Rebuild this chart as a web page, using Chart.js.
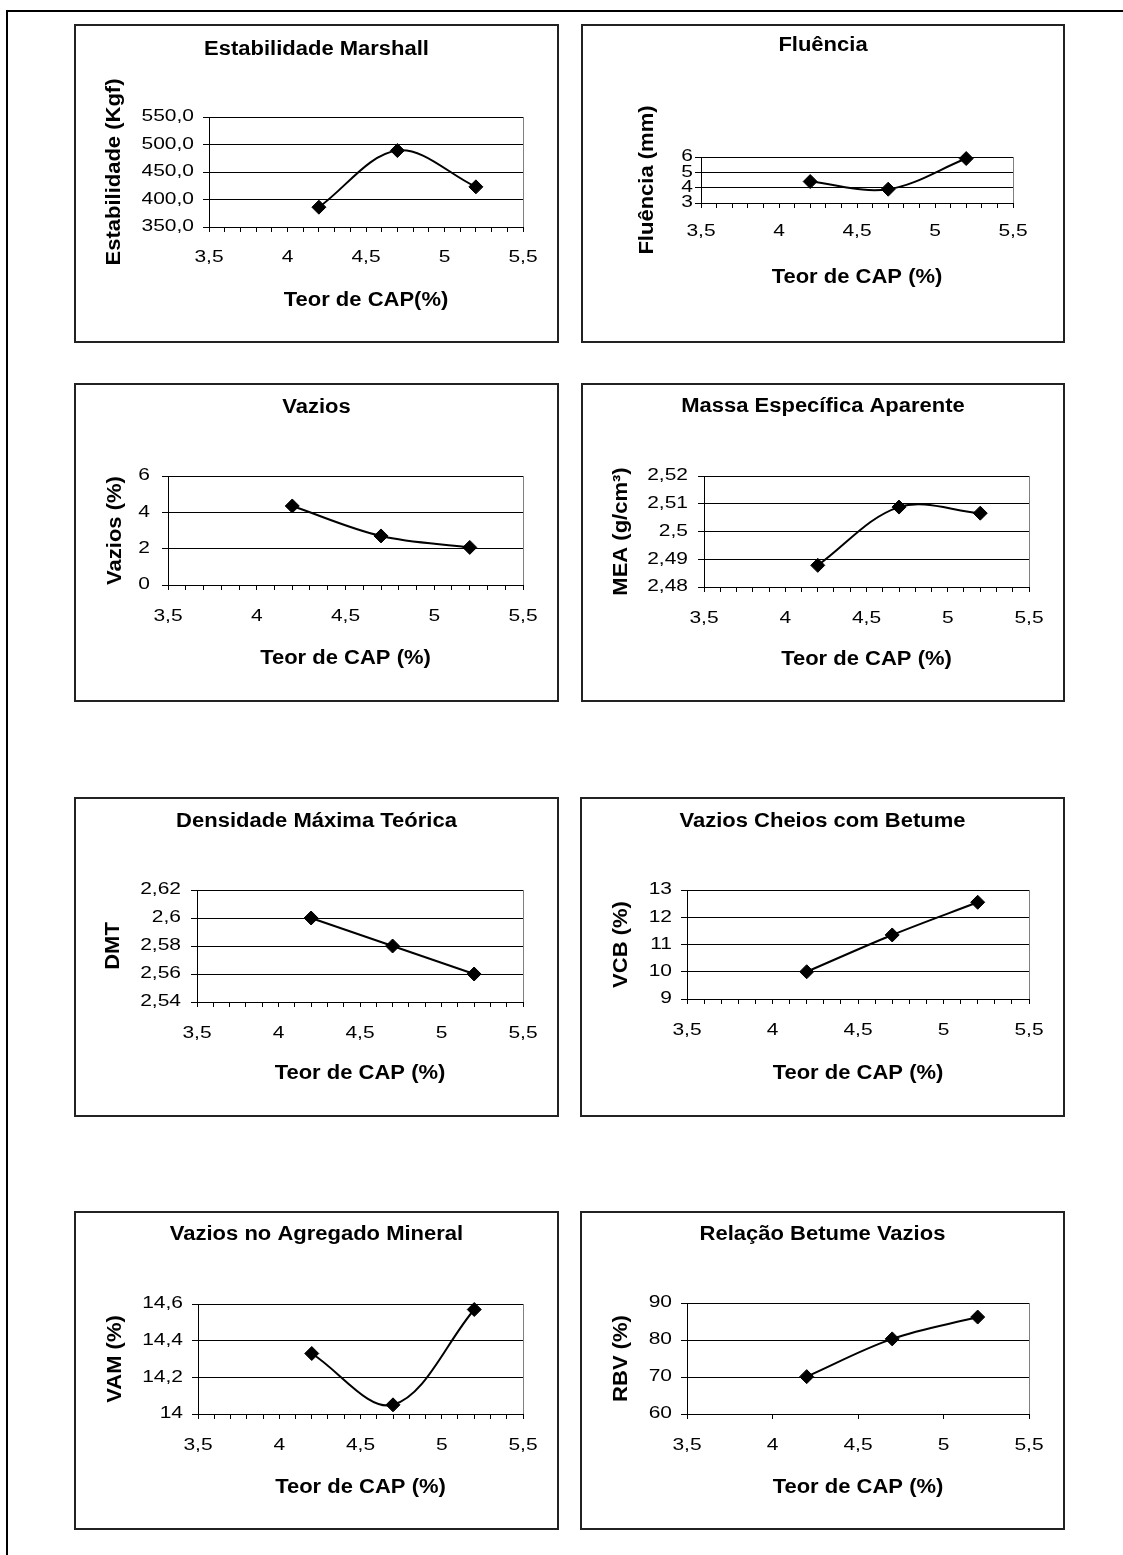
<!DOCTYPE html>
<html>
<head>
<meta charset="utf-8">
<script src="https://cdn.jsdelivr.net/npm/chart.js@4.4.1/dist/chart.umd.min.js"></script>
<style>
  html, body { margin: 0; padding: 0; background: #fff; }
  body { width: 1123px; height: 1555px; position: relative; overflow: hidden; }
  #frame { position: absolute; left: 6px; top: 10px; width: 1200px; height: 1544px;
           border-top: 2px solid #000; border-left: 2px solid #000; }
  canvas { position: absolute; }
</style>
</head>
<body>
<div id="frame"></div>
<canvas id="cEstab" width="485" height="319" style="left:74px;top:24px"></canvas>
<canvas id="cFlu"   width="484" height="319" style="left:581px;top:24px"></canvas>
<canvas id="cVaz"   width="485" height="319" style="left:74px;top:383px"></canvas>
<canvas id="cMEA"   width="484" height="319" style="left:581px;top:383px"></canvas>
<canvas id="cDMT"   width="485" height="320" style="left:74px;top:797px"></canvas>
<canvas id="cVCB"   width="485" height="320" style="left:580px;top:797px"></canvas>
<canvas id="cVAM"   width="485" height="319" style="left:74px;top:1211px"></canvas>
<canvas id="cRBV"   width="485" height="319" style="left:580px;top:1211px"></canvas>

<script>
// Teor de CAP (%) of the three mixes
const teorCAP = [4.2, 4.7, 5.2];

// Measured properties per mix
const estabilidade = [386, 489, 423];          // Kgf
const fluencia     = [4.4, 3.9, 5.9];          // mm
const vazios       = [4.35, 2.7, 2.07];        // %
const mea          = [2.4878, 2.5088, 2.5066]; // g/cm3
const dmt          = [2.60, 2.58, 2.56];
const vcb          = [10.0, 11.35, 12.55];     // %
const vam          = [14.33, 14.05, 14.57];    // %
const rbv          = [70.1, 80.3, 86.2];       // %

// X axis ticks
const xMinorTicks  = [3.5, 3.6, 3.7, 3.8, 3.9, 4.0, 4.1, 4.2, 4.3, 4.4, 4.5,
                      4.6, 4.7, 4.8, 4.9, 5.0, 5.1, 5.2, 5.3, 5.4, 5.5];
const xMajorTicks  = [3.5, 4, 4.5, 5, 5.5];
const xTickLabels  = ['3,5', '4', '4,5', '5', '5,5'];

// Y axis ticks and their labels
const yTicksEstab  = [350, 400, 450, 500, 550];
const yLabelsEstab = ['350,0', '400,0', '450,0', '500,0', '550,0'];
const yTicksFlu    = [3, 4, 5, 6];
const yLabelsFlu   = ['3', '4', '5', '6'];
const yTicksVaz    = [0, 2, 4, 6];
const yLabelsVaz   = ['0', '2', '4', '6'];
const yTicksMEA    = [2.48, 2.49, 2.50, 2.51, 2.52];
const yLabelsMEA   = ['2,48', '2,49', '2,5', '2,51', '2,52'];
const yTicksDMT    = [2.54, 2.56, 2.58, 2.60, 2.62];
const yLabelsDMT   = ['2,54', '2,56', '2,58', '2,6', '2,62'];
const yTicksVCB    = [9, 10, 11, 12, 13];
const yLabelsVCB   = ['9', '10', '11', '12', '13'];
const yTicksVAM    = [14, 14.2, 14.4, 14.6];
const yLabelsVAM   = ['14', '14,2', '14,4', '14,6'];
const yTicksRBV    = [60, 70, 80, 90];
const yLabelsRBV   = ['60', '70', '80', '90'];

const FAMILY = "'Liberation Sans', Arial, sans-serif";
const fontTitle = { family: FAMILY, size: 20, weight: 'bold' };
const fontTick  = { family: FAMILY, size: 16 };
const HALF_TITLE = 20 * 1.2 / 2;
const HALF_TICK  = 16 * 1.2 / 2;
const TICK_X = 5, TICK_Y = 6;

// The printed charts use wide lettering: widen glyphs horizontally
// (bold text a little, regular tick text more) around each anchor point.
function widenText(ctx) {
  const fill = ctx.fillText.bind(ctx);
  const measure = ctx.measureText.bind(ctx);
  const factor = () => (/bold/.test(ctx.font) ? 1.10 : 1.31);
  ctx.fillText = function (text, x, y, maxWidth) {
    const k = factor();
    ctx.save();
    ctx.translate(x, y);
    ctx.scale(k, 1);
    if (maxWidth === undefined || maxWidth === null) fill(text, 0, 0);
    else fill(text, 0, 0, maxWidth / k);
    ctx.restore();
  };
  ctx.measureText = function (text) {
    const m = measure(text);
    const k = factor();
    return {
      width: m.width * k,
      actualBoundingBoxLeft: m.actualBoundingBoxLeft * k,
      actualBoundingBoxRight: m.actualBoundingBoxRight * k,
      actualBoundingBoxAscent: m.actualBoundingBoxAscent,
      actualBoundingBoxDescent: m.actualBoundingBoxDescent,
      fontBoundingBoxAscent: m.fontBoundingBoxAscent,
      fontBoundingBoxDescent: m.fontBoundingBoxDescent
    };
  };
  return ctx;
}

// Grey plot-area frame and the outer box of every chart
const framePlugin = {
  id: 'frame',
  beforeDraw(chart) {
    const { ctx, chartArea: a } = chart;
    ctx.save();
    ctx.strokeStyle = '#808080';
    ctx.lineWidth = 1;
    ctx.strokeRect(Math.round(a.left) + 0.5, Math.round(a.top) + 0.5,
                   Math.round(a.right - a.left), Math.round(a.bottom - a.top));
    ctx.restore();
  },
  afterDraw(chart) {
    const ctx = chart.ctx;
    ctx.save();
    ctx.strokeStyle = '#222';
    ctx.lineWidth = 2;
    ctx.strokeRect(1, 1, chart.width - 2, chart.height - 2);
    ctx.restore();
  }
};

function xLabel(v) {
  const i = xMajorTicks.findIndex(m => Math.abs(m - v) < 1e-6);
  return i < 0 ? '' : xTickLabels[i];
}

function drawChart(id, spec, L) {
  const canvas = document.getElementById(id);
  const W = canvas.width, H = canvas.height;
  const ctx = widenText(canvas.getContext('2d'));
  return new Chart(ctx, {
    type: 'line',
    data: {
      datasets: [{
        data: teorCAP.map((x, i) => ({ x, y: spec.values[i] })),
        borderColor: '#000',
        borderWidth: 2,
        tension: 0.35,
        fill: false,
        clip: false,
        pointStyle: 'rectRot',
        pointRadius: 7,
        pointBackgroundColor: '#000',
        pointBorderColor: '#000',
        pointBorderWidth: 1
      }]
    },
    options: {
      responsive: false,
      animation: false,
      events: [],
      layout: { padding: 0 },
      plugins: {
        legend: { display: false },
        tooltip: { enabled: false },
        title: {
          display: true, text: spec.title, color: '#000', font: fontTitle,
          padding: { top: L.titleY - HALF_TITLE, bottom: L.t - L.titleY - HALF_TITLE }
        }
      },
      scales: {
        x: {
          type: 'linear', min: 3.5, max: 5.5,
          afterBuildTicks: s => { s.ticks = spec.xTicks.map(v => ({ value: v })); },
          afterFit: s => { s.height = H - L.b; },
          ticks: { autoSkip: false, maxRotation: 0, color: '#000', font: fontTick,
                   padding: L.xLab - TICK_X - HALF_TICK, callback: xLabel },
          grid: { drawOnChartArea: false, drawTicks: true, tickLength: TICK_X, color: '#000', lineWidth: 1 },
          border: { display: true, color: '#000', width: 1 },
          title: { display: true, text: 'Teor de CAP' + spec.xSuffix, color: '#000', font: fontTitle,
                   padding: { top: 0, bottom: L.xTitle - HALF_TITLE } }
        },
        y: {
          type: 'linear', position: 'left',
          min: spec.yTicks[0], max: spec.yTicks[spec.yTicks.length - 1],
          afterBuildTicks: s => { s.ticks = spec.yTicks.map(v => ({ value: v })); },
          afterFit: s => { s.width = L.l; },
          ticks: { autoSkip: false, color: '#000', font: fontTick,
                   padding: L.gap - TICK_Y, callback: (v, i) => spec.yLabels[i] },
          grid: { drawTicks: true, tickLength: TICK_Y, color: '#000', lineWidth: 1 },
          border: { display: true, color: '#000', width: 1 },
          title: { display: true, text: spec.yTitle, color: '#000', font: fontTitle,
                   padding: { top: L.yTitleX - HALF_TITLE, bottom: 0 } }
        },
        rightGap: {
          type: 'linear', position: 'right', display: true,
          grid: { display: false }, ticks: { display: false }, border: { display: false },
          afterFit: s => { s.width = W - L.r; }
        }
      }
    },
    plugins: [framePlugin]
  });
}

drawChart('cEstab', { title: 'Estabilidade Marshall', yTitle: 'Estabilidade (Kgf)', xSuffix: '(%)',
  values: estabilidade, yTicks: yTicksEstab, yLabels: yLabelsEstab, xTicks: xMinorTicks },
  { l: 135, t: 93, r: 449, b: 203, titleY: 25, xLab: 31, xTitle: 43, yTitleX: 40, gap: 15 });

drawChart('cFlu', { title: 'Fluência', yTitle: 'Fluência (mm)', xSuffix: ' (%)',
  values: fluencia, yTicks: yTicksFlu, yLabels: yLabelsFlu, xTicks: xMinorTicks },
  { l: 120, t: 133, r: 432, b: 179, titleY: 21, xLab: 29, xTitle: 66, yTitleX: 66, gap: 8 });

drawChart('cVaz', { title: 'Vazios', yTitle: 'Vazios (%)', xSuffix: ' (%)',
  values: vazios, yTicks: yTicksVaz, yLabels: yLabelsVaz, xTicks: xMinorTicks },
  { l: 94, t: 93, r: 449, b: 202, titleY: 24.5, xLab: 32, xTitle: 44, yTitleX: 41, gap: 18 });

drawChart('cMEA', { title: 'Massa Específica Aparente', yTitle: 'MEA (g/cm³)', xSuffix: ' (%)',
  values: mea, yTicks: yTicksMEA, yLabels: yLabelsMEA, xTicks: xMinorTicks },
  { l: 123, t: 93, r: 448, b: 204, titleY: 23, xLab: 32, xTitle: 43, yTitleX: 40, gap: 16 });

drawChart('cDMT', { title: 'Densidade Máxima Teórica', yTitle: 'DMT', xSuffix: ' (%)',
  values: dmt, yTicks: yTicksDMT, yLabels: yLabelsDMT, xTicks: xMinorTicks },
  { l: 123, t: 93, r: 449, b: 205, titleY: 24, xLab: 32, xTitle: 44, yTitleX: 39, gap: 16 });

drawChart('cVCB', { title: 'Vazios Cheios com Betume', yTitle: 'VCB (%)', xSuffix: ' (%)',
  values: vcb, yTicks: yTicksVCB, yLabels: yLabelsVCB, xTicks: xMinorTicks },
  { l: 107, t: 93, r: 449, b: 202, titleY: 24, xLab: 32, xTitle: 44, yTitleX: 41, gap: 15 });

drawChart('cVAM', { title: 'Vazios no Agregado Mineral', yTitle: 'VAM (%)', xSuffix: ' (%)',
  values: vam, yTicks: yTicksVAM, yLabels: yLabelsVAM, xTicks: xMinorTicks },
  { l: 124, t: 93, r: 449, b: 203, titleY: 23, xLab: 32, xTitle: 43, yTitleX: 41, gap: 15 });

drawChart('cRBV', { title: 'Relação Betume Vazios', yTitle: 'RBV (%)', xSuffix: ' (%)',
  values: rbv, yTicks: yTicksRBV, yLabels: yLabelsRBV, xTicks: xMajorTicks },
  { l: 107, t: 92, r: 449, b: 203, titleY: 23, xLab: 32, xTitle: 43, yTitleX: 41, gap: 15 });
</script>
</body>
</html>
